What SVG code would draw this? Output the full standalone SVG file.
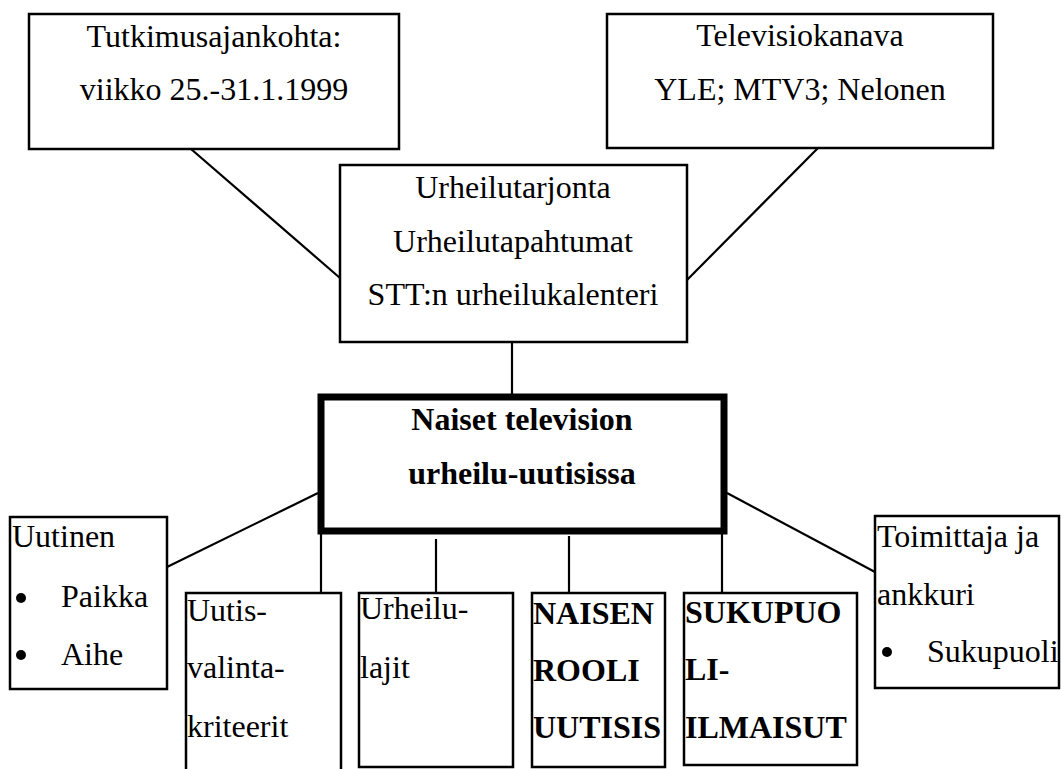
<svg xmlns="http://www.w3.org/2000/svg" width="1061" height="769" viewBox="0 0 1061 769">
<style>
  .box { fill: #fff; stroke: #000; stroke-width: 2.5; }
  .main { fill: #fff; stroke: #000; stroke-width: 7; }
  .t { font-family: "Liberation Serif", "Times New Roman", serif; font-size: 32px; fill: #000; }
  .c { text-anchor: middle; }
  .b { font-weight: bold; }
  .conn line { stroke: #000; stroke-width: 2.2; }
</style>
<rect width="1061" height="769" fill="#fff"/>
<g id="connectors" class="conn">
  <line x1="191" y1="149" x2="340" y2="278"/>
  <line x1="818" y1="148" x2="687" y2="280"/>
  <line x1="512" y1="342" x2="512" y2="394"/>
  <line x1="167" y1="567" x2="318" y2="493"/>
  <line x1="727" y1="493" x2="875" y2="572"/>
  <line x1="321" y1="534" x2="321" y2="593"/>
  <line x1="436" y1="539" x2="436" y2="593"/>
  <line x1="569" y1="536" x2="569" y2="593"/>
  <line x1="722" y1="534" x2="722" y2="593"/>
</g>
<g id="node-tutkimusajankohta">
  <rect class="box" x="29" y="14" width="370" height="135"/>
  <text class="t c" x="214" y="47">Tutkimusajankohta:</text>
  <text class="t c" x="214" y="100">viikko 25.-31.1.1999</text>
</g>
<g id="node-televisiokanava">
  <rect class="box" x="607" y="14" width="386" height="134"/>
  <text class="t c" x="800" y="46">Televisiokanava</text>
  <text class="t c" x="800" y="100">YLE; MTV3; Nelonen</text>
</g>
<g id="node-urheilutarjonta">
  <rect class="box" x="340" y="165" width="347" height="177"/>
  <text class="t c" x="513" y="198">Urheilutarjonta</text>
  <text class="t c" x="513" y="252">Urheilutapahtumat</text>
  <text class="t c" x="513" y="305">STT:n urheilukalenteri</text>
</g>
<g id="node-main">
  <rect class="main" x="321" y="397" width="403" height="134"/>
  <text class="t c b" x="522" y="430">Naiset television</text>
  <text class="t c b" x="522" y="484">urheilu-uutisissa</text>
</g>
<g id="node-uutinen">
  <rect class="box" x="10" y="517" width="157" height="172"/>
  <text class="t" x="12" y="547">Uutinen</text>
  <circle cx="21" cy="598" r="5"/>
  <text class="t" x="61" y="607">Paikka</text>
  <circle cx="21" cy="655" r="5"/>
  <text class="t" x="61" y="665">Aihe</text>
</g>
<g id="node-uutisvalinta">
  <rect class="box" x="186" y="593" width="155" height="180"/>
  <text class="t" x="187" y="621">Uutis-</text>
  <text class="t" x="187" y="678">valinta-</text>
  <text class="t" x="187" y="737">kriteerit</text>
</g>
<g id="node-urheilulajit">
  <rect class="box" x="359" y="593" width="154" height="174"/>
  <text class="t" x="360" y="619">Urheilu-</text>
  <text class="t" x="360" y="678">lajit</text>
</g>
<g id="node-naisen-rooli">
  <rect class="box" x="532" y="593" width="133" height="174"/>
  <text class="t b" x="533" y="624">NAISEN</text>
  <text class="t b" x="533" y="681">ROOLI</text>
  <text class="t b" x="533" y="738">UUTISIS</text>
</g>
<g id="node-sukupuoli-ilmaisut">
  <rect class="box" x="684" y="593" width="173" height="172"/>
  <text class="t b" x="685" y="623">SUKUPUO</text>
  <text class="t b" x="685" y="680">LI-</text>
  <text class="t b" x="685" y="738">ILMAISUT</text>
</g>
<g id="node-toimittaja">
  <rect class="box" x="875" y="516" width="184" height="172"/>
  <text class="t" x="877" y="547">Toimittaja ja</text>
  <text class="t" x="877" y="605">ankkuri</text>
  <circle cx="887" cy="652" r="5"/>
  <text class="t" x="927" y="662">Sukupuoli</text>
</g>
</svg>
